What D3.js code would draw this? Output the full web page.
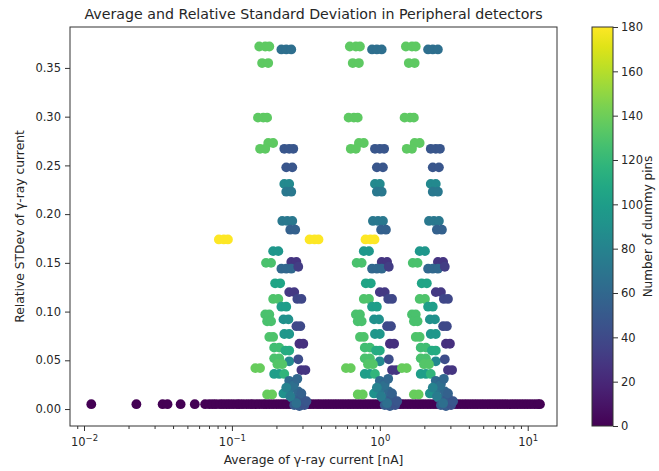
<!DOCTYPE html>
<html>
<head>
<meta charset="utf-8">
<script src="https://cdn.jsdelivr.net/npm/d3@7"></script>
<style>
  body { margin: 0; background: #fff; }
  text { font-family: "DejaVu Sans", sans-serif; fill: #262626; }
</style>
</head>
<body>
<svg id="chart" width="659" height="471"></svg>
<script>
// Relative standard deviation of each peripheral detector
const rsd = [
  0.372, 0.372, 0.372, 0.369, 0.369, 0.369, 0.355, 0.355,
  0.299, 0.299, 0.299, 0.273, 0.273, 0.267, 0.267, 0.267, 0.267, 0.267,
  0.248, 0.248, 0.231, 0.231, 0.223, 0.223, 0.193, 0.193, 0.193,
  0.184, 0.184, 0.174, 0.174, 0.174, 0.162, 0.162, 0.150, 0.150,
  0.151, 0.151, 0.144, 0.144, 0.144, 0.146, 0.129, 0.129, 0.120, 0.120,
  0.113, 0.113, 0.113, 0.113, 0.105, 0.105, 0.097, 0.097, 0.090, 0.090,
  0.092, 0.092, 0.085, 0.085, 0.074, 0.074, 0.077, 0.077, 0.067, 0.067,
  0.063, 0.063, 0.060, 0.060, 0.052, 0.052, 0.049, 0.051, 0.046, 0.046,
  0.042, 0.042, 0.036, 0.036, 0.036, 0.040, 0.040, 0.029, 0.026,
  0.015, 0.015, 0.016, 0.016, 0.011, 0.010, 0.012, 0.004, 0.003, 0.004,
  0.021, 0.018, 0.006,
  0.024, 0.016, 0.008, 0.013, 0.022, 0.031
];

// Number of dummy pins next to each detector
const pins = [
  135, 135, 135, 65, 65, 65, 135, 135,
  135, 135, 135, 135, 135, 135, 135, 48, 48, 48,
  48, 48, 85, 85, 72, 72, 72, 72, 72,
  55, 55, 180, 180, 180, 95, 95, 128, 128,
  28, 28, 60, 60, 60, 32, 105, 105, 30, 30,
  38, 38, 130, 130, 100, 100, 128, 128, 128, 128,
  90, 90, 40, 40, 130, 130, 95, 95, 25, 25,
  125, 125, 110, 110, 128, 128, 85, 42, 132, 132,
  138, 138, 100, 100, 118, 28, 28, 62, 58,
  138, 138, 92, 92, 55, 55, 50, 52, 52, 45,
  70, 60, 65,
  65, 55, 48, 75, 80, 60
];

// Average current of each detector [nA] at the low, middle and high settings
const currentLow = [
  0.153, 0.168, 0.179, 0.216, 0.233, 0.252, 0.160, 0.176,
  0.150, 0.163, 0.173, 0.176, 0.190, 0.155, 0.168, 0.226, 0.244, 0.260,
  0.233, 0.256, 0.226, 0.244, 0.233, 0.252, 0.219, 0.237, 0.256,
  0.248, 0.268, 0.0816, 0.0882, 0.0940, 0.190, 0.206, 0.170, 0.184,
  0.252, 0.273, 0.216, 0.233, 0.252, 0.281, 0.196, 0.212, 0.244, 0.264,
  0.277, 0.295, 0.190, 0.206, 0.216, 0.233, 0.168, 0.179, 0.173, 0.184,
  0.223, 0.241, 0.273, 0.290, 0.179, 0.190, 0.226, 0.244, 0.286, 0.304,
  0.193, 0.209, 0.230, 0.244, 0.193, 0.209, 0.244, 0.281, 0.203, 0.219,
  0.144, 0.155, 0.193, 0.209, 0.226, 0.295, 0.314, 0.244, 0.264,
  0.173, 0.187, 0.223, 0.241, 0.256, 0.277, 0.295, 0.264, 0.286, 0.309,
  0.252, 0.281, 0.273,
  0.260, 0.295, 0.319, 0.248, 0.233, 0.277
];
const currentMid = [
  0.627, 0.689, 0.734, 0.886, 0.955, 1.03, 0.656, 0.722,
  0.615, 0.668, 0.709, 0.722, 0.779, 0.636, 0.689, 0.927, 1.00, 1.07,
  0.955, 1.05, 0.927, 1.00, 0.955, 1.03, 0.898, 0.972, 1.05,
  1.02, 1.10, 0.335, 0.362, 0.385, 0.779, 0.845, 0.697, 0.754,
  1.03, 1.12, 0.886, 0.955, 1.03, 1.15, 0.804, 0.869, 1.00, 1.08,
  1.14, 1.21, 0.779, 0.845, 0.886, 0.955, 0.689, 0.734, 0.709, 0.754,
  0.914, 0.988, 1.12, 1.19, 0.734, 0.779, 0.927, 1.00, 1.17, 1.25,
  0.791, 0.857, 0.943, 1.00, 0.791, 0.857, 1.00, 1.15, 0.832, 0.898,
  0.590, 0.636, 0.791, 0.857, 0.927, 1.21, 1.29, 1.00, 1.08,
  0.709, 0.767, 0.914, 0.988, 1.05, 1.14, 1.21, 1.08, 1.17, 1.27,
  1.03, 1.15, 1.12,
  1.07, 1.21, 1.31, 1.02, 0.955, 1.14
];
const currentHigh = [
  1.50, 1.65, 1.75, 2.12, 2.28, 2.47, 1.57, 1.72,
  1.47, 1.60, 1.70, 1.72, 1.86, 1.52, 1.65, 2.21, 2.39, 2.55,
  2.28, 2.51, 2.21, 2.39, 2.28, 2.47, 2.15, 2.32, 2.51,
  2.43, 2.63, 0.800, 0.864, 0.921, 1.86, 2.02, 1.67, 1.80,
  2.47, 2.68, 2.12, 2.28, 2.47, 2.75, 1.92, 2.08, 2.39, 2.59,
  2.71, 2.89, 1.86, 2.02, 2.12, 2.28, 1.65, 1.75, 1.70, 1.80,
  2.18, 2.36, 2.68, 2.84, 1.75, 1.86, 2.21, 2.39, 2.80, 2.98,
  1.89, 2.05, 2.25, 2.39, 1.89, 2.05, 2.39, 2.75, 1.99, 2.15,
  1.41, 1.52, 1.89, 2.05, 2.21, 2.89, 3.08, 2.39, 2.59,
  1.70, 1.83, 2.18, 2.36, 2.51, 2.71, 2.89, 2.59, 2.80, 3.03,
  2.47, 2.75, 2.68,
  2.55, 2.89, 3.13, 2.43, 2.28, 2.71
];

// Detectors without dummy pins: near-zero spread across the whole current range
const baseCurrent = [
  0.0112, 0.0226, 0.0340, 0.0367, 0.0450, 0.0561, 0.0659, 0.0703, 0.0742,
  0.0781, 0.0832, 0.0874, 0.0921, 0.0968, 0.102, 0.108, 0.113, 0.119,
  0.126, 0.133, 0.139, 0.146, 0.154, 0.163, 0.171, 0.180, 0.190, 0.201,
  0.212, 0.223, 0.235, 0.247, 0.261, 0.274, 0.289, 0.305, 0.321, 0.338,
  0.356, 0.376, 0.395, 0.417, 0.439, 0.462, 0.487, 0.513, 0.541, 0.570,
  0.601, 0.632, 0.666, 0.702, 0.739, 0.779, 0.821, 0.864, 0.911, 0.959,
  1.01, 1.06, 1.12, 1.18, 1.24, 1.31, 1.38, 1.45, 1.53, 1.61, 1.70,
  1.79, 1.88, 1.98, 2.09, 2.20, 2.32, 2.44, 2.57, 2.71, 2.86, 3.01,
  3.17, 3.34, 3.52, 3.71, 3.90, 4.11, 4.33, 4.56, 4.81, 5.06, 5.34,
  5.62, 5.92, 6.24, 6.57, 6.92, 7.29, 7.68, 8.09, 8.52, 8.98, 9.46,
  9.96, 10.5, 11.1, 11.7, 12.1
];
const baseRsd = 0.005;
const basePins = 0;

// Axis ticks
const yTicks = [0, 0.05, 0.10, 0.15, 0.20, 0.25, 0.30, 0.35];
const xTicks = [0.01, 0.1, 1, 10];
const xTickExponents = ["\u22122", "\u22121", "0", "1"];
const pinTicks = [0, 20, 40, 60, 80, 100, 120, 140, 160, 180];

const svg = d3.select("#chart");
const m = { left: 70, right: 557, top: 27, bottom: 426 };

const x = d3.scaleLog()
  .domain([Math.pow(10, -2.0947), Math.pow(10, 1.198)])
  .range([m.left, m.right]);
const y = d3.scaleLinear()
  .domain([-0.0174, 0.392])
  .range([m.bottom, m.top]);
const color = d3.scaleSequential(d3.interpolateViridis).domain([0, 180]);

// Points: zero-pin detectors first, then the three current settings
const points = [];
baseCurrent.forEach(c => points.push({ c, r: baseRsd, p: basePins }));
[currentLow, currentMid, currentHigh].forEach(set => {
  set.forEach((c, i) => points.push({ c, r: rsd[i], p: pins[i] }));
});

svg.append("clipPath").attr("id", "plotClip")
  .append("rect")
  .attr("x", m.left).attr("y", m.top)
  .attr("width", m.right - m.left).attr("height", m.bottom - m.top);

svg.append("g")
  .attr("clip-path", "url(#plotClip)")
  .selectAll("circle")
  .data(points)
  .join("circle")
  .attr("cx", d => x(d.c))
  .attr("cy", d => y(d.r))
  .attr("r", 4.9)
  .attr("fill", d => color(d.p));

// Frame
svg.append("rect")
  .attr("x", m.left).attr("y", m.top)
  .attr("width", m.right - m.left).attr("height", m.bottom - m.top)
  .attr("fill", "none").attr("stroke", "#333").attr("stroke-width", 1);

// X axis: minor log ticks, then major ticks with power-of-ten labels
const minor = [];
[0.001, 0.01, 0.1, 1, 10].forEach(dec => {
  for (let k = 2; k <= 9; k++) {
    const v = dec * k;
    if (v >= x.domain()[0] && v <= x.domain()[1]) minor.push(v);
  }
});
const xMinorAxis = svg.append("g")
  .attr("transform", `translate(0,${m.bottom})`)
  .call(d3.axisBottom(x).tickValues(minor).tickSize(3).tickFormat(""));
xMinorAxis.select(".domain").remove();
xMinorAxis.selectAll("line").attr("stroke", "#333");

const xAxis = svg.append("g")
  .attr("transform", `translate(0,${m.bottom})`)
  .call(d3.axisBottom(x).tickValues(xTicks).tickSize(5).tickFormat(""));
xAxis.select(".domain").remove();
xAxis.selectAll("line").attr("stroke", "#333");
xAxis.selectAll(".tick").each(function (d, i) {
  const t = d3.select(this).append("text")
    .attr("y", 20).attr("text-anchor", "middle")
    .attr("font-size", 11.5).attr("fill", "#262626");
  t.append("tspan").text("10");
  t.append("tspan").attr("dy", -5).attr("font-size", 8.5).text(xTickExponents[i]);
});

// Y axis
const yAxis = svg.append("g")
  .attr("transform", `translate(${m.left},0)`)
  .call(d3.axisLeft(y).tickValues(yTicks).tickSize(5).tickPadding(4).tickFormat(d3.format(".2f")));
yAxis.select(".domain").remove();
yAxis.selectAll("line").attr("stroke", "#333");
yAxis.selectAll("text")
  .attr("font-size", 11.5).attr("font-family", "DejaVu Sans, sans-serif").attr("fill", "#262626");

// Titles
svg.append("text")
  .attr("x", (m.left + m.right) / 2).attr("y", 19)
  .attr("text-anchor", "middle").attr("font-size", 14.2)
  .text("Average and Relative Standard Deviation in Peripheral detectors");
svg.append("text")
  .attr("x", (m.left + m.right) / 2).attr("y", 464)
  .attr("text-anchor", "middle").attr("font-size", 12.3)
  .text("Average of \u03b3-ray current [nA]");
svg.append("text")
  .attr("transform", `translate(24,${(m.top + m.bottom) / 2}) rotate(-90)`)
  .attr("text-anchor", "middle").attr("font-size", 12.3)
  .text("Relative STDev of \u03b3-ray current");

// Colour bar
const cb = { x0: 592, x1: 613 };
const cbScale = d3.scaleLinear().domain([0, 180]).range([m.bottom, m.top]);
const grad = svg.append("defs").append("linearGradient")
  .attr("id", "viridisGrad")
  .attr("x1", 0).attr("y1", 1).attr("x2", 0).attr("y2", 0);
d3.range(0, 1.0001, 0.05).forEach(t => {
  grad.append("stop").attr("offset", t).attr("stop-color", d3.interpolateViridis(t));
});
svg.append("rect")
  .attr("x", cb.x0).attr("y", m.top)
  .attr("width", cb.x1 - cb.x0).attr("height", m.bottom - m.top)
  .attr("fill", "url(#viridisGrad)")
  .attr("stroke", "#333").attr("stroke-width", 1);
const cbAxis = svg.append("g")
  .attr("transform", `translate(${cb.x1},0)`)
  .call(d3.axisRight(cbScale).tickValues(pinTicks).tickSize(5).tickPadding(3));
cbAxis.select(".domain").remove();
cbAxis.selectAll("line").attr("stroke", "#333");
cbAxis.selectAll("text")
  .attr("font-size", 11.5).attr("font-family", "DejaVu Sans, sans-serif").attr("fill", "#262626");
svg.append("text")
  .attr("transform", `translate(652,${(m.top + m.bottom) / 2}) rotate(-90)`)
  .attr("text-anchor", "middle").attr("font-size", 12)
  .text("Number of dummy pins");
</script>
</body>
</html>
